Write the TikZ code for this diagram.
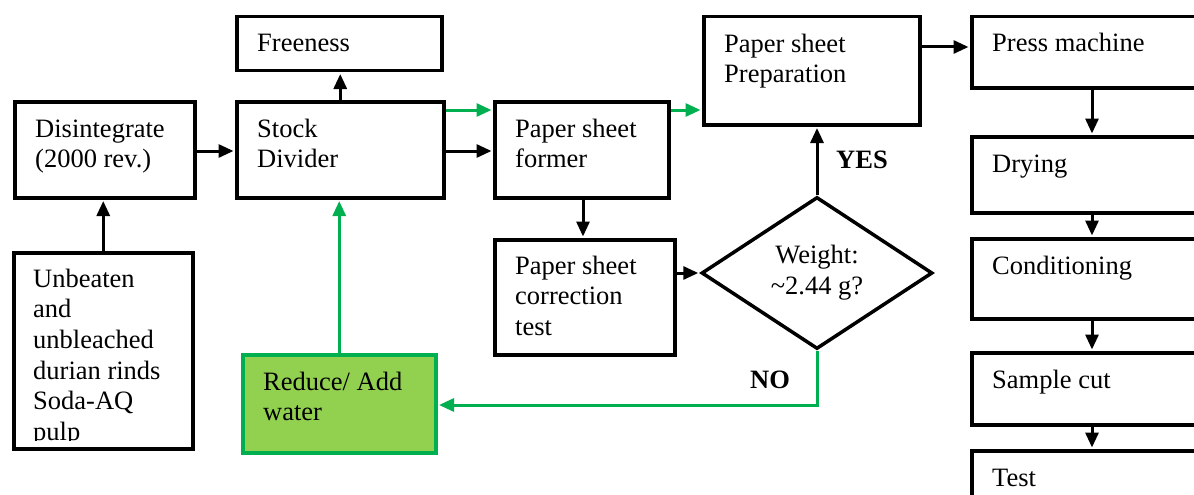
\documentclass[tikz,border=0pt]{standalone}
\usepackage{fontspec}
\setmainfont{Liberation Serif}
\usetikzlibrary{arrows.meta,shapes.geometric,calc}
\definecolor{grn}{HTML}{00B050}
\definecolor{lgrn}{HTML}{92D050}
\begin{document}
\begin{tikzpicture}[x=1pt,y=-1pt,
  box/.style={draw, line width=3.5pt, inner sep=0pt, anchor=north west, rectangle},
  txt/.style={font=\fontsize{26.5}{30.7}\selectfont, inner sep=0pt, anchor=base west, align=left},
  arr/.style={line width=3pt, -{Triangle[length=15pt,width=13pt]}, shorten >=1.5pt},
  garr/.style={arr, draw=grn},
  lbl/.style={font=\fontsize{26.5}{30.7}\selectfont\bfseries, inner sep=0pt}
]
\useasboundingbox (0,0) rectangle (1194,495);
\clip (0,0) rectangle (1194,495);

% boxes
\node[box, minimum width=180pt, minimum height=96pt] (dis) at (13,100) {};
\node[box, minimum width=207pt, minimum height=96pt] (stock) at (235,100) {};
\node[box, minimum width=205pt, minimum height=54pt] (free) at (235,15) {};
\node[box, minimum width=179pt, minimum height=196pt] (unb) at (12,251) {};
\node[box, minimum width=174pt, minimum height=96pt] (former) at (493,100) {};
\node[box, minimum width=180pt, minimum height=115pt] (corr) at (493,238) {};
\node[box, minimum width=216pt, minimum height=108pt] (prep) at (702,15) {};
\node[box, draw=grn, fill=lgrn, minimum width=193pt, minimum height=98pt] (red) at (241,353) {};
\node[box, minimum width=240pt, minimum height=71pt] (press) at (970,15) {};
\node[box, minimum width=240pt, minimum height=76pt] (dry) at (970,135) {};
\node[box, minimum width=240pt, minimum height=80pt] (cond) at (970,237) {};
\node[box, minimum width=240pt, minimum height=72pt] (cut) at (970,351) {};
\node[box, minimum width=240pt, minimum height=80pt] (test) at (970,449) {};
\node[draw, diamond, line width=3.5pt, inner sep=0pt, minimum width=231pt, minimum height=152pt] (dia) at (817,273) {};

% texts (anchor = baseline of the last line)
\node[txt] (dis-t) at ([shift={(22,67.7)}]dis.north west) {Disintegrate\\(2000 rev.)};
\node[txt] (stock-t) at ([shift={(22,67.7)}]stock.north west) {Stock\\Divider};
\node[txt] (free-t) at ([shift={(22,37)}]free.north west) {Freeness};
\begin{scope}
  \clip (unb.north west) rectangle ([shift={(0,-10)}]unb.south east);
  \node[txt] (unb-t) at ([shift={(21,189.5)}]unb.north west) {Unbeaten\\and\\unbleached\\durian rinds\\Soda-AQ\\pulp};
\end{scope}
\node[txt] (former-t) at ([shift={(22,67.7)}]former.north west) {Paper sheet\\former};
\node[txt] (corr-t) at ([shift={(22,97.4)}]corr.north west) {Paper sheet\\correction\\test};
\node[txt] (prep-t) at ([shift={(22,67.7)}]prep.north west) {Paper sheet\\Preparation};
\node[txt] (red-t) at ([shift={(22,67.7)}]red.north west) {Reduce/ Add\\water};
\node[txt] (press-t) at ([shift={(22,37)}]press.north west) {Press machine};
\node[txt] (dry-t) at ([shift={(22,37)}]dry.north west) {Drying};
\node[txt] (cond-t) at ([shift={(22,37)}]cond.north west) {Conditioning};
\node[txt] (cut-t) at ([shift={(22,37)}]cut.north west) {Sample cut};
\node[txt] (test-t) at ([shift={(22,37)}]test.north west) {Test};
\node[txt, align=center, anchor=base] (dia-t) at (817,294) {Weight:\\\textasciitilde2.44 g?};
\node[lbl] (yes) at (862,160) {YES};
\node[lbl] (no) at (770,380) {NO};

% connectors
\draw[arr] (unb.north) -- (unb.north |- dis.south);
\draw[arr] (dis.east |- 0,151) -- (stock.west |- 0,151);
\draw[arr] (stock.north) -- (stock.north |- free.south);
\draw[garr] (stock.east |- 0,110) -- (former.west |- 0,110);
\draw[arr] (stock.east |- 0,151) -- (former.west |- 0,151);
\draw[garr] (former.east |- 0,110) -- (prep.west |- 0,110);
\draw[arr] (former.south -| 583,0) -- (corr.north -| 583,0);
\draw[arr] (corr.east |- dia.west) -- (dia.west);
\draw[arr] (dia.north) -- (dia.north |- prep.south);
\draw[garr] (dia.south) -- (dia.south |- 0,405) -- (red.east |- 0,405);
\draw[garr] (red.north) -- (red.north |- stock.south);
\draw[arr] (prep.east |- 0,47) -- (press.west |- 0,47);
\draw[arr] (press.south -| 1092,0) -- (dry.north -| 1092,0);
\draw[arr] (dry.south -| 1092,0) -- (cond.north -| 1092,0);
\draw[arr] (cond.south -| 1092,0) -- (cut.north -| 1092,0);
\draw[arr] (cut.south -| 1092,0) -- (test.north -| 1092,0);
\end{tikzpicture}
\end{document}
